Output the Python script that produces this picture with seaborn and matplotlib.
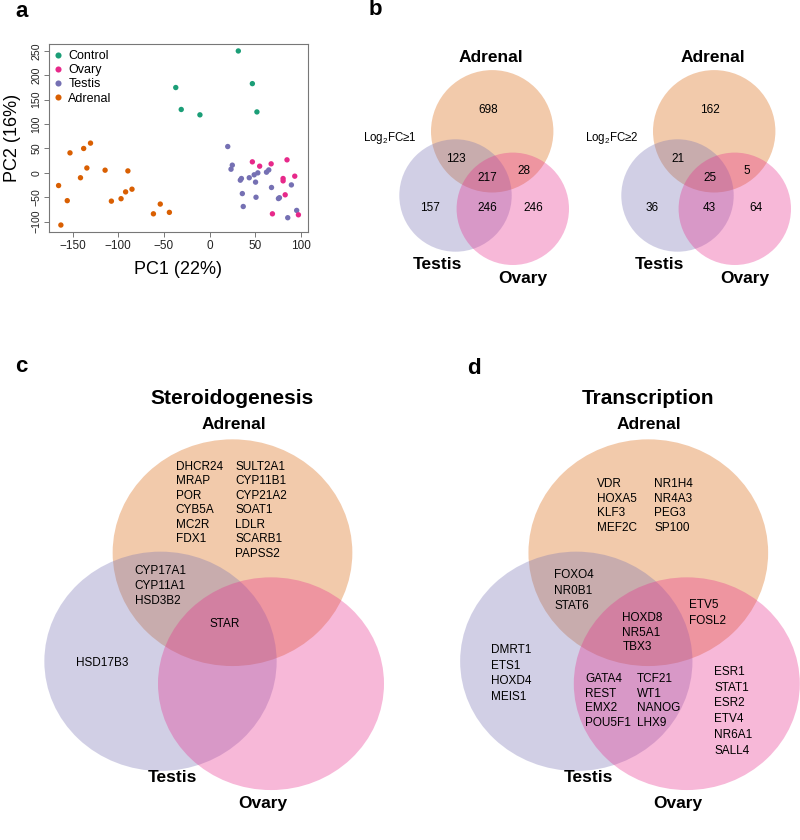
import matplotlib
matplotlib.use("Agg")
import matplotlib.pyplot as plt
from matplotlib.patches import Ellipse
from matplotlib.lines import Line2D
import seaborn as sns
import pandas as pd

# ---- panel a: PCA scores ----
control_pc1 = [31.6, -37, -31, -10.5, 47, 52]
control_pc2 = [250, 175, 130, 119, 183, 125]
adrenal_pc1 = [-165.5, -163, -156, -153, -141.5, -138, -134.5, -130.5, -114.5,
               -107.6, -97, -92, -89.5, -85, -61.5, -54, -44]
adrenal_pc2 = [-26, -107, -57, 41, -10, 50, 10, 61, 5.5, -58, -53, -39, 4,
               -33.5, -84, -64, -81]
ovary_pc1 = [47, 55, 67.6, 85, 80.7, 80.7, 93.5, 83, 69, 97.5]
ovary_pc2 = [22.6, 13.7, 18.5, 26.7, -11.6, -16.4, -6.8, -45, -84, -86]
testis_pc1 = [20, 25, 23.6, 33.8, 35, 36, 37, 43.6, 49, 50.5, 53, 51, 62.5, 65,
              68, 75.6, 76.7, 85.8, 89.8, 95.6]
testis_pc2 = [54, 15.8, 7.5, -15, -11.6, -42.5, -69, -10, -4, -19, 0, -50, 1.4,
              6, -30, -52.7, -51, -92, -24.7, -77]

legend_order = ["Control", "Ovary", "Testis", "Adrenal"]
dark2 = sns.color_palette("Dark2", 4)
tissue_colors = {"Control": dark2[0], "Adrenal": dark2[1],
                 "Testis": dark2[2], "Ovary": dark2[3]}

# ---- panel b: DEG counts ----
venn_regions = ["A", "AT", "ATO", "AO", "T", "TO", "O"]
counts_fc1 = [698, 123, 217, 28, 157, 246, 246]
counts_fc2 = [162, 21, 25, 5, 36, 43, 64]

# ---- panel c / d: gene lists ----
steroid_adrenal_1 = ["DHCR24", "MRAP", "POR", "CYB5A", "MC2R", "FDX1"]
steroid_adrenal_2 = ["SULT2A1", "CYP11B1", "CYP21A2", "SOAT1", "LDLR", "SCARB1", "PAPSS2"]
steroid_adr_testis = ["CYP17A1", "CYP11A1", "HSD3B2"]
steroid_all = ["STAR"]
steroid_testis = ["HSD17B3"]

tf_adrenal_1 = ["VDR", "HOXA5", "KLF3", "MEF2C"]
tf_adrenal_2 = ["NR1H4", "NR4A3", "PEG3", "SP100"]
tf_adr_testis = ["FOXO4", "NR0B1", "STAT6"]
tf_adr_ovary = ["ETV5", "FOSL2"]
tf_all = ["HOXD8", "NR5A1", "TBX3"]
tf_testis = ["DMRT1", "ETS1", "HOXD4", "MEIS1"]
tf_testis_ovary_1 = ["GATA4", "REST", "EMX2", "POU5F1"]
tf_testis_ovary_2 = ["TCF21", "WT1", "NANOG", "LHX9"]
tf_ovary = ["ESR1", "STAT1", "ESR2", "ETV4", "NR6A1", "SALL4"]

plt.rcParams["font.family"] = ["Liberation Sans", "DejaVu Sans"]
plt.rcParams["mathtext.fontset"] = "custom"
plt.rcParams["mathtext.rm"] = "Liberation Sans"

fig = plt.figure(figsize=(8, 8.4), dpi=100)

# scatter
pca_df = pd.concat([
    pd.DataFrame({"PC1": control_pc1, "PC2": control_pc2, "tissue": "Control"}),
    pd.DataFrame({"PC1": adrenal_pc1, "PC2": adrenal_pc2, "tissue": "Adrenal"}),
    pd.DataFrame({"PC1": testis_pc1, "PC2": testis_pc2, "tissue": "Testis"}),
    pd.DataFrame({"PC1": ovary_pc1, "PC2": ovary_pc2, "tissue": "Ovary"}),
])
ax = fig.add_axes([49 / 800, 1 - 232 / 840, 259 / 800, 188 / 840])
sns.scatterplot(data=pca_df, x="PC1", y="PC2", hue="tissue", palette=tissue_colors,
                s=15, linewidth=0, legend=False, ax=ax)
ax.margins(0.04)
ax.set_xticks(range(-150, 101, 50))
ax.set_yticks(range(-100, 251, 50))
ax.tick_params(length=3.5, width=0.7, color="#777777", labelcolor="#222222", pad=2)
ax.tick_params(axis="x", labelsize=8.5)
ax.tick_params(axis="y", labelsize=7.6, labelrotation=90)
for lab in ax.get_yticklabels():
    lab.set_va("center")
for sp in ax.spines.values():
    sp.set_color("#777777")
    sp.set_linewidth(0.8)
ax.set_xlabel("PC1 (22%)", fontsize=13, labelpad=7)
ax.set_ylabel("PC2 (16%)", fontsize=13, labelpad=7.5)
handles = [Line2D([], [], marker="o", ls="", markersize=4.4, markeredgewidth=0,
                  color=tissue_colors[t]) for t in legend_order]
ax.legend(handles, legend_order, loc="upper left", bbox_to_anchor=(0, 0.987),
          frameon=False, fontsize=9, handlelength=0.8, handletextpad=0.45,
          labelspacing=0.17, borderaxespad=0, borderpad=0.3)

# overlay in pixel coordinates for venns and text
ov = fig.add_axes([0, 0, 1, 1])
ov.set_xlim(0, 800)
ov.set_ylim(840, 0)
ov.axis("off")

fill_alpha = 0.33
gene_fs = 8.5


def draw_ellipses(cx, cy, specs):
    for name, dx, dy, w, h in specs:
        ov.add_patch(Ellipse((cx + dx, cy + dy), w, h, facecolor=tissue_colors[name],
                             alpha=fill_alpha, edgecolor="none"))


# panel b venns
small_specs = [("Adrenal", 0, 0, 122.4, 122.4),
               ("Testis", -36.7, 64.2, 112.4, 112.4),
               ("Ovary", 20.6, 77.5, 112.4, 112.4)]
small_offsets = {"A": (-4.5, -21.3), "AT": (-36.2, 27.4), "ATO": (-4.5, 46.4),
                 "AO": (32.1, 39.4), "T": (-62.2, 77), "TO": (-4.5, 77),
                 "O": (41.5, 77)}
for cx, counts, fc in [(492.2, counts_fc1, "1"), (714.2, counts_fc2, "2")]:
    cy = 131.3
    draw_ellipses(cx, cy, small_specs)
    for reg, n in zip(venn_regions, counts):
        dx, dy = small_offsets[reg]
        ov.text(cx + dx, cy + dy, str(n), fontsize=gene_fs, ha="center", va="center")
    ov.text(cx - 1, 57.7, "Adrenal", fontsize=12.5, fontweight="bold", ha="center", va="center")
    ov.text(cx - 54.5, 264.3, "Testis", fontsize=12.5, fontweight="bold", ha="center", va="center")
    ov.text(cx + 31.1, 278.3, "Ovary", fontsize=12.5, fontweight="bold", ha="center", va="center")
    ov.text(cx - 102.2, 137.7, r"Log$_\mathregular{2}$FC≥" + fc, fontsize=8.3,
            ha="center", va="center")

# panels c and d
big_specs = [("Adrenal", 0, 0, 239.7, 226.7),
             ("Testis", -72, 108.6, 232.3, 219.3),
             ("Ovary", 38.5, 131, 226, 212.7)]


def gene_block(x, y0, genes, dy=14.5):
    for i, g in enumerate(genes):
        ov.text(x, y0 + i * dy, g, fontsize=gene_fs, ha="left", va="center")


for cx, title in [(232.5, "Steroidogenesis"), (648.3, "Transcription")]:
    cy = 552.7
    draw_ellipses(cx, cy, big_specs)
    ov.text(cx, 398.3, title, fontsize=15, fontweight="bold", ha="center", va="center")
    ov.text(cx + 1, 424.3, "Adrenal", fontsize=12.5, fontweight="bold", ha="center", va="center")
    ov.text(cx - 60, 777.7, "Testis", fontsize=12.5, fontweight="bold", ha="center", va="center")
    ov.text(cx + 30, 803.3, "Ovary", fontsize=12.5, fontweight="bold", ha="center", va="center")

gene_block(175.7, 466.7, steroid_adrenal_1)
gene_block(235.3, 466.7, steroid_adrenal_2)
gene_block(134.7, 570.7, steroid_adr_testis, dy=15.2)
gene_block(209.5, 624.3, steroid_all)
gene_block(76, 662.7, steroid_testis)

gene_block(596.7, 484.3, tf_adrenal_1, dy=14.6)
gene_block(654.3, 484.3, tf_adrenal_2, dy=14.6)
gene_block(554.3, 575, tf_adr_testis, dy=15.5)
gene_block(689.3, 605, tf_adr_ovary, dy=16)
gene_block(622.3, 618.3, tf_all, dy=14.5)
gene_block(491, 650, tf_testis, dy=15.6)
gene_block(585, 679.3, tf_testis_ovary_1, dy=14.5)
gene_block(636.7, 679.3, tf_testis_ovary_2, dy=14.5)
gene_block(714.3, 672, tf_ovary, dy=15.7)

# panel letters
for letter, x, y in [("a", 21.7, 11.7), ("b", 375.7, 9.3), ("c", 21, 366), ("d", 474, 369)]:
    ov.text(x, y, letter, fontsize=16, fontweight="bold", ha="center", va="center")

fig.savefig("out.png", dpi=100)
